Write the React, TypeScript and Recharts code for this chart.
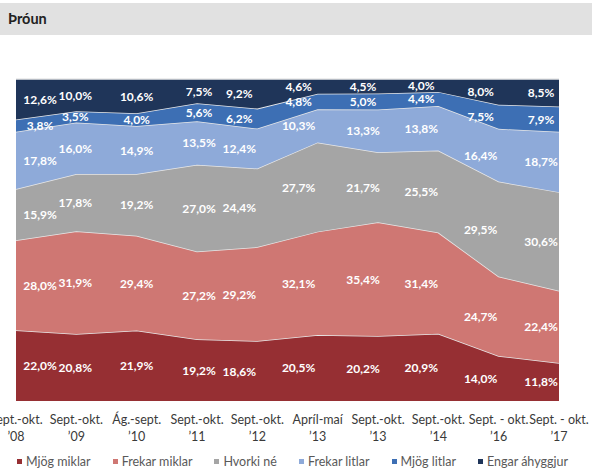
import React from 'react';
import { AreaChart, Area, XAxis, YAxis } from 'recharts';

const categories = [
  "Sept.-okt.\n’08",
  "Sept.-okt.\n’09",
  "Ág.-sept.\n’10",
  "Sept.-okt.\n’11",
  "Sept.-okt.\n’12",
  "Apríl-maí\n’13",
  "Sept.-okt.\n’13",
  "Sept.-okt.\n’14",
  "Sept. - okt.\n’16",
  "Sept. - okt.\n’17",
];

const mjogMiklar = [22.0, 20.8, 21.9, 19.2, 18.6, 20.5, 20.2, 20.9, 14.0, 11.8];
const frekarMiklar = [28.0, 31.9, 29.4, 27.2, 29.2, 32.1, 35.4, 31.4, 24.7, 22.4];
const hvorkiNe = [15.9, 17.8, 19.2, 27.0, 24.4, 27.7, 21.7, 25.5, 29.5, 30.6];
const frekarLitlar = [17.8, 16.0, 14.9, 13.5, 12.4, 10.3, 13.3, 13.8, 16.4, 18.7];
const mjogLitlar = [3.8, 3.5, 4.0, 5.6, 6.2, 4.8, 5.0, 4.4, 7.5, 7.9];
const engarAhyggjur = [12.6, 10.0, 10.6, 7.5, 9.2, 4.6, 4.5, 4.0, 8.0, 8.5];

const seriesNames = ["Mjög miklar", "Frekar miklar", "Hvorki né", "Frekar litlar", "Mjög litlar", "Engar áhyggjur"];
const seriesKeys = ["mm", "fm", "hn", "fl", "ml", "ea"];
const seriesValues = [mjogMiklar, frekarMiklar, hvorkiNe, frekarLitlar, mjogLitlar, engarAhyggjur];
const colors = ["#962f33", "#cf7773", "#a5a5a5", "#8eaad9", "#3d6fb4", "#1f3559"];

const data = categories.map((c, i) => {
  const row: any = { cat: c };
  seriesKeys.forEach((k, s) => { row[k] = seriesValues[s][i]; });
  return row;
});

const W = 592;
const H = 475;
const MARGIN = { top: 79, right: 33, bottom: 34, left: 16 };
const XAXIS_H = 40;
const PLOT_H = H - MARGIN.top - MARGIN.bottom - XAXIS_H;
const LABEL_DX = [24, -1, 0, 2, -18, -19, -15, -17, -18, -18];
const FONT = "Lato, 'Open Sans', sans-serif";

const fmt = (v: number) => v.toFixed(1).replace('.', ',') + '%';

const makeLabel = (s: number) => (p: any) => {
  const i = p.index;
  if (i == null || p.x == null || p.y == null) return null;
  const v = seriesValues[s][i];
  let sum = 0;
  seriesValues.forEach((arr) => { sum += arr[i]; });
  const h = (v / sum) * PLOT_H;
  return (
    <text
      key={`lbl-${s}-${i}`}
      x={p.x + LABEL_DX[i]}
      y={p.y + h / 2}
      textAnchor="middle"
      dominantBaseline="central"
      fill="#ffffff"
      fontFamily={FONT}
      fontWeight={700}
      fontSize={12}
    >
      {fmt(v)}
    </text>
  );
};

const Tick = (props: any) => {
  const { x, y, payload } = props;
  const parts = String(payload.value).split('\n');
  return (
    <text x={x} y={y} textAnchor="middle" fill="#3a3a3a" fontFamily={FONT} fontSize={12.5}>
      <tspan x={x} dy={23}>{parts[0]}</tspan>
      <tspan x={x} dy={17}>{parts[1]}</tspan>
    </text>
  );
};

export default function App() {
  return (
    <div style={{ position: 'absolute', left: 0, top: 0, width: W, height: H, background: '#ffffff', overflow: 'hidden' }}>
      <div
        style={{
          position: 'absolute', left: 0, top: 3, width: W, height: 32, background: '#e1e1e1',
        }}
      >
        <span
          style={{
            position: 'absolute', left: 8, top: 7, fontFamily: FONT, fontWeight: 700,
            fontSize: 14.5, color: '#222222',
          }}
        >
          Þróun
        </span>
      </div>
      <div style={{ position: 'absolute', left: 0, top: 0 }}>
        <AreaChart width={W} height={H} data={data} margin={MARGIN} stackOffset="expand">
          <XAxis
            dataKey="cat"
            height={XAXIS_H}
            axisLine={false}
            tickLine={false}
            tickSize={0}
            tickMargin={0}
            interval={0}
            tick={<Tick />}
          />
          <YAxis hide domain={[0, 1]} />
          {seriesKeys.map((k, s) => (
            <Area
              key={k}
              type="linear"
              dataKey={k}
              name={seriesNames[s]}
              stackId="a"
              fill={colors[s]}
              fillOpacity={1}
              stroke="#e8e8e8"
              strokeWidth={1.5}
              isAnimationActive={false}
              label={makeLabel(s)}
            />
          ))}
        </AreaChart>
      </div>
      <div
        style={{
          position: 'absolute', left: 17, top: 454, display: 'flex', alignItems: 'center',
          fontFamily: FONT, fontSize: 12.5, color: '#595959', whiteSpace: 'nowrap',
        }}
      >
        {seriesNames.map((n, s) => (
          <div key={n} style={{ display: 'flex', alignItems: 'center', marginRight: s < seriesNames.length - 1 ? 22 : 0 }}>
            <span style={{ display: 'inline-block', width: 5, height: 5, background: colors[s], marginRight: 4 }} />
            <span>{n}</span>
          </div>
        ))}
      </div>
    </div>
  );
}
